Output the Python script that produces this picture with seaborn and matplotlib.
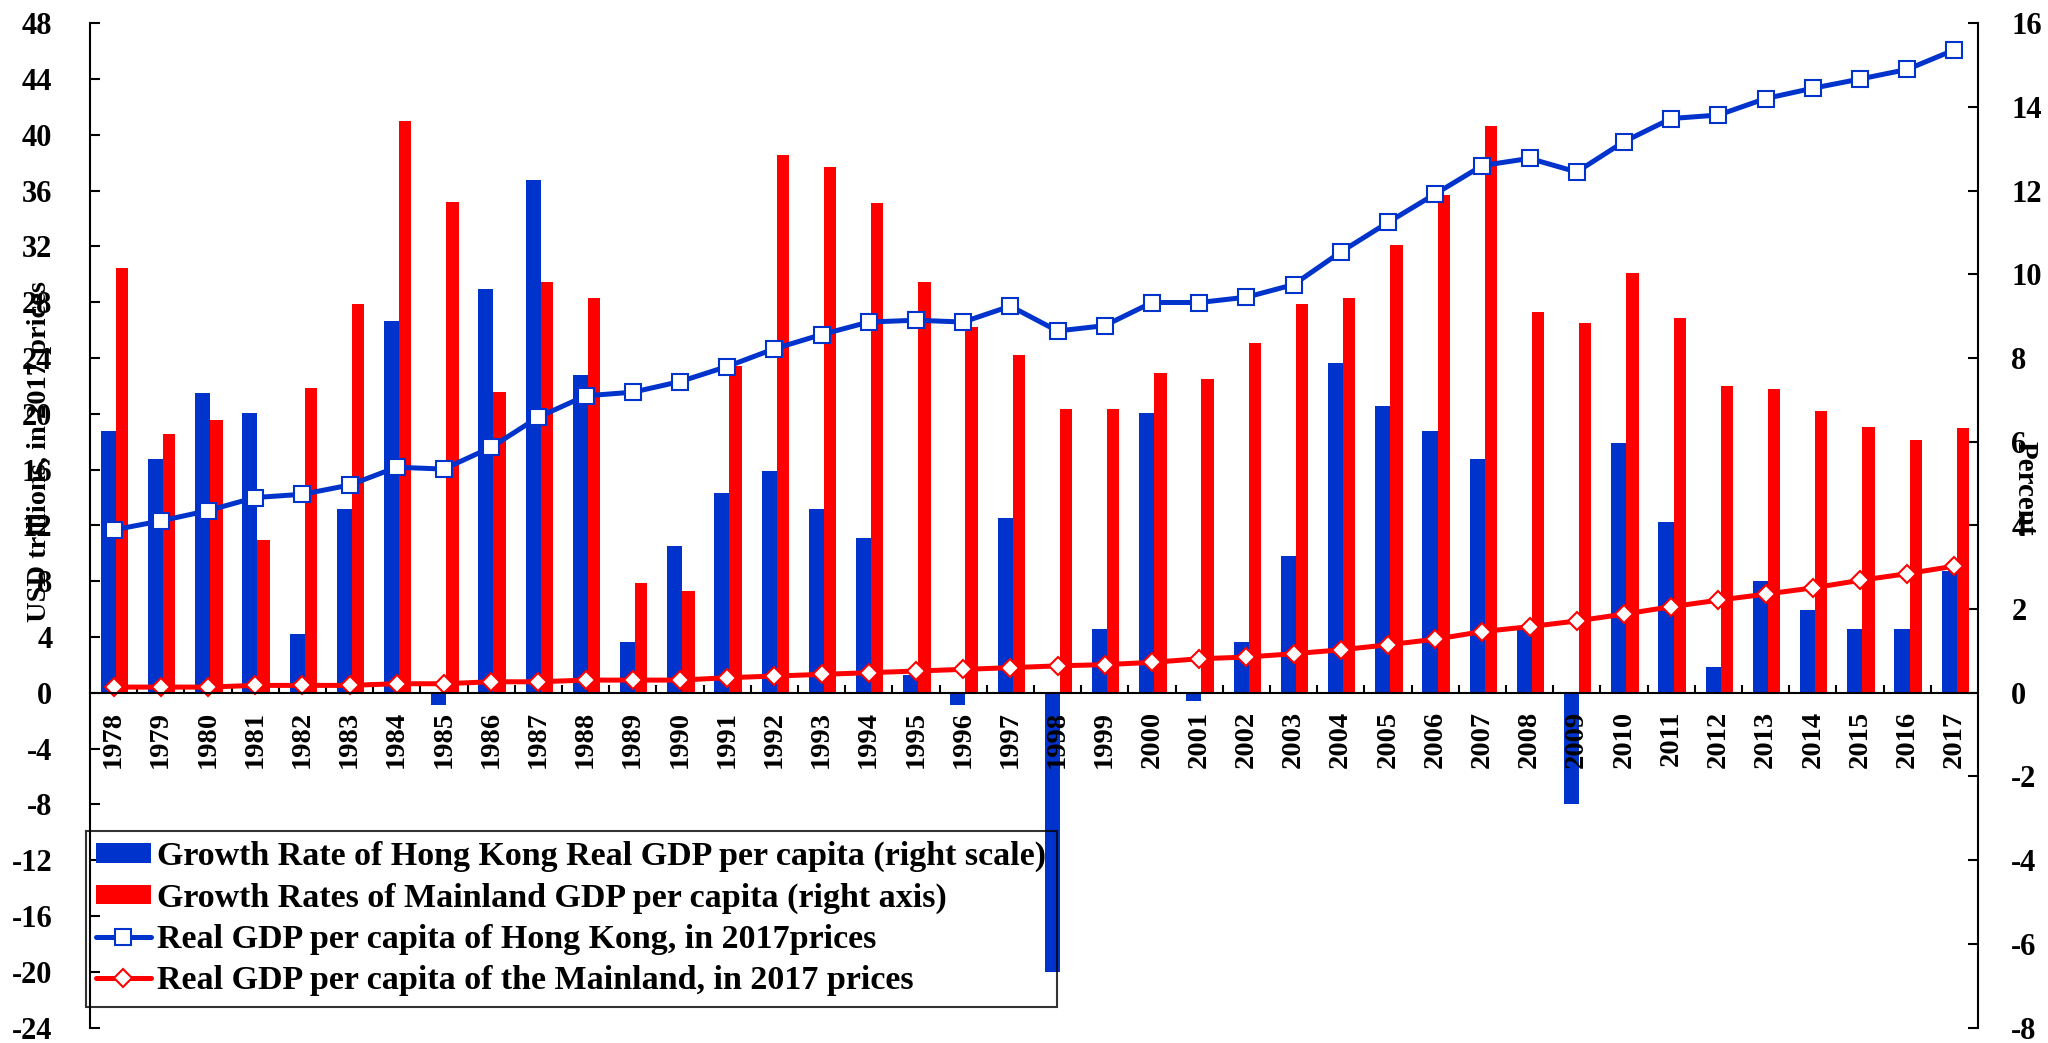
import numpy as np
import seaborn as sns
import matplotlib.pyplot as plt
from matplotlib.patches import Patch
from matplotlib.lines import Line2D
from matplotlib.ticker import FixedLocator

years = ['1978', '1979', '1980', '1981', '1982', '1983', '1984', '1985', '1986', '1987',
         '1988', '1989', '1990', '1991', '1992', '1993', '1994', '1995', '1996', '1997',
         '1998', '1999', '2000', '2001', '2002', '2003', '2004', '2005', '2006', '2007',
         '2008', '2009', '2010', '2011', '2012', '2013', '2014', '2015', '2016', '2017']

# growth rates in percent (right axis)
hk_growth = [6.26, 5.59, 7.17, 6.69, 1.40, 4.40, 8.88, -0.28, 9.65, 12.26,
             7.60, 1.22, 3.51, 4.78, 5.29, 4.40, 3.71, 0.42, -0.28, 4.18,
             -6.68, 1.52, 6.69, -0.20, 1.21, 3.26, 7.88, 6.86, 6.26, 5.59,
             1.52, -2.66, 5.97, 4.08, 0.62, 2.66, 1.98, 1.52, 1.52, 2.92]
cn_growth = [10.15, 6.18, 6.52, 3.65, 7.29, 9.30, 13.66, 11.73, 7.20, 9.81,
             9.44, 2.63, 2.44, 7.82, 12.85, 12.56, 11.70, 9.81, 8.75, 8.07,
             6.78, 6.78, 7.64, 7.51, 8.37, 9.30, 9.44, 10.71, 11.90, 13.54,
             9.09, 8.83, 10.03, 8.96, 7.34, 7.25, 6.73, 6.35, 6.05, 6.32]

# real GDP per capita levels (left axis)
hk_level = [11.68, 12.32, 13.06, 14.00, 14.23, 14.89, 16.17, 16.04, 17.60, 19.76,
            21.29, 21.55, 22.31, 23.39, 24.66, 25.68, 26.58, 26.71, 26.58, 27.72,
            25.94, 26.32, 27.98, 27.98, 28.36, 29.26, 31.60, 33.72, 35.76, 37.80,
            38.31, 37.34, 39.51, 41.17, 41.42, 42.60, 43.34, 44.00, 44.69, 46.09]
cn_level = [0.41, 0.41, 0.41, 0.53, 0.53, 0.53, 0.65, 0.65, 0.79, 0.79,
            0.91, 0.91, 0.91, 1.08, 1.20, 1.32, 1.44, 1.56, 1.68, 1.80,
            1.93, 2.02, 2.18, 2.44, 2.56, 2.80, 3.08, 3.44, 3.84, 4.39,
            4.74, 5.15, 5.64, 6.17, 6.64, 7.07, 7.52, 8.06, 8.54, 9.08]

labels = ['Growth Rate of Hong Kong Real GDP per capita (right scale)',
          'Growth Rates of Mainland GDP per capita (right axis)',
          'Real GDP per capita of Hong Kong, in 2017prices',
          'Real GDP per capita of the Mainland, in 2017 prices']

BLUE = '#0033CC'
RED = '#FF0000'

sns.set_theme(style='white', rc={'text.color': 'black', 'axes.labelcolor': 'black',
                                 'xtick.color': 'black', 'ytick.color': 'black',
                                 'axes.edgecolor': 'black'})
plt.rcParams['font.family'] = ['Liberation Serif', 'DejaVu Serif']
plt.rcParams['font.weight'] = 'bold'
plt.rcParams['axes.unicode_minus'] = False

fig = plt.figure(figsize=(20.48, 10.43), dpi=100)
ax = fig.add_axes([0.0439, 0.0148, 0.9219, 0.9629])
ax_r = ax.twinx()
ax.set_zorder(ax_r.get_zorder() + 1)
ax.patch.set_visible(False)

pos = np.arange(len(years))

# bars on the percent axis
sns.barplot(x=pos - 0.11, y=hk_growth, native_scale=True, width=0.32, color=BLUE,
            saturation=1, errorbar=None, linewidth=0, ax=ax_r)
sns.barplot(x=pos + 0.18, y=cn_growth, native_scale=True, width=0.26, color=RED,
            saturation=1, errorbar=None, linewidth=0, ax=ax_r)

# level lines on the left axis
sns.lineplot(x=pos, y=hk_level, ax=ax, color=BLUE, linewidth=3.6, marker='s',
             markersize=12, markerfacecolor='white', markeredgecolor=BLUE,
             markeredgewidth=1.5)
sns.lineplot(x=pos, y=cn_level, ax=ax, color=RED, linewidth=3.6, marker='D',
             markersize=9.5, markerfacecolor='white', markeredgecolor=RED,
             markeredgewidth=1.5)

ax.set_xlim(-0.5, 39.5)
ax.set_ylim(-24, 48)
ax.set_yticks(range(-24, 49, 4))
ax_r.set_ylim(-8, 16)
ax_r.set_yticks(range(-8, 17, 2))

for a in (ax, ax_r):
    a.spines['top'].set_visible(False)
    a.set_xlabel('')
    a.set_ylabel('')
ax.spines['right'].set_visible(False)
ax_r.spines['left'].set_visible(False)
ax_r.spines['bottom'].set_visible(False)
ax.spines['bottom'].set_position(('data', 0))
for s in ('left', 'bottom'):
    ax.spines[s].set_linewidth(1.5)
ax_r.spines['right'].set_linewidth(1.5)

ax.set_xticks(pos)
ax.set_xticklabels(years, rotation=90, fontsize=20.5, fontweight='bold')
ax.xaxis.set_minor_locator(FixedLocator(np.arange(0.5, 39.5, 1)))
ax.tick_params(axis='x', which='major', length=0, pad=13, bottom=True)
ax.tick_params(axis='x', which='minor', direction='in', length=6, width=1.5, bottom=True)
ax.tick_params(axis='y', direction='in', length=7, width=1.5, pad=27, labelsize=22, left=True)
ax_r.tick_params(axis='y', direction='in', length=7, width=1.5, pad=24, labelsize=22, right=True)
ax_r.tick_params(axis='x', bottom=False, labelbottom=False)
for t in ax.get_yticklabels() + ax_r.get_yticklabels() + ax.get_xticklabels():
    t.set_fontweight('bold')

fig.text(40 / 2048, 1 - 451 / 1043, 'USD trillions, in 2017 prices', rotation=90,
         ha='center', va='center', fontsize=20.5, fontweight='bold')
fig.text(2025 / 2048, 1 - 488 / 1043, 'Percent', rotation=270,
         ha='center', va='center', fontsize=21, fontweight='bold')

handles = [Patch(facecolor=BLUE, edgecolor='none'),
           Patch(facecolor=RED, edgecolor='none'),
           Line2D([], [], color=BLUE, lw=3.6, marker='s', ms=12, mfc='white', mec=BLUE, mew=1.5),
           Line2D([], [], color=RED, lw=3.6, marker='D', ms=9.5, mfc='white', mec=RED, mew=1.5)]
leg = fig.legend(handles, labels, loc='upper left', bbox_to_anchor=(86 / 2048, 1 - 831 / 1043),
                 frameon=True, fancybox=False, edgecolor='black', facecolor='none',
                 prop={'size': 24.5, 'weight': 'bold'}, handlelength=1.6, handleheight=0.5,
                 handletextpad=0.2, labelspacing=0.3, borderpad=0.3, borderaxespad=0)
leg.get_frame().set_linewidth(1.5)

fig.savefig('out.png', dpi=100)
